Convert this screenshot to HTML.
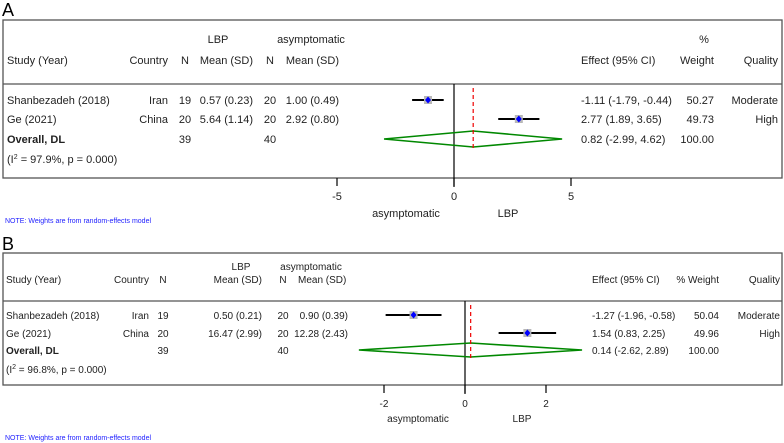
<!DOCTYPE html>
<html><head><meta charset="utf-8"><style>
body{margin:0;background:#fff}
svg{display:block;font-family:"Liberation Sans",Arial,sans-serif}
</style></head><body>
<svg id="c" width="784" height="443" viewBox="0 0 784 443"></svg>
<script>
const studyNames=["Shanbezadeh (2018)","Ge (2021)"];
const countries=["Iran","China"];
const aEffect=[-1.11,2.77], aLo=[-1.79,1.89], aHi=[-0.44,3.65];
const aOverall=[0.82,-2.99,4.62];
const aTicks=[-5,0,5];
const bEffect=[-1.27,1.54], bLo=[-1.96,0.83], bHi=[-0.58,2.25];
const bOverall=[0.14,-2.62,2.89];
const bTicks=[-2,0,2];
const aText=[["19","0.57 (0.23)","20","1.00 (0.49)","-1.11 (-1.79, -0.44)","50.27","Moderate"],["20","5.64 (1.14)","20","2.92 (0.80)","2.77 (1.89, 3.65)","49.73","High"]];
const bText=[["19","0.50 (0.21)","20","0.90 (0.39)","-1.27 (-1.96, -0.58)","50.04","Moderate"],["20","16.47 (2.99)","20","12.28 (2.43)","1.54 (0.83, 2.25)","49.96","High"]];
const NS="http://www.w3.org/2000/svg",svg=document.getElementById('c');
function el(t,a,name,txt){const e=document.createElementNS(NS,t);for(const k in a)e.setAttribute(k,a[k]);


if(txt!==undefined)e.textContent=txt;svg.appendChild(e);return e;}
function T(x,y,s,name,o={}){return el('text',Object.assign({x:x,y:y,'font-size':o.fs||11,'text-anchor':o.a||'start',fill:o.fill||'#222','font-weight':o.fw||'normal'},o.extra||{}),name,s);}

function panel(P){
  const fs=P.fs;
  T(P.letterX,P.letterY,P.letter,'panel-letter',{fs:18,fill:'#000'});
  el('rect',{x:P.bx1,y:P.by1,width:P.bx2-P.bx1,height:P.by2-P.by1,fill:'none',stroke:'#555','stroke-width':1.3},'panel-frame');
  el('line',{x1:P.bx1,x2:P.bx2,y1:P.hy,y2:P.hy,stroke:'#555','stroke-width':1.3},'header-rule');
  const c=P.cols;
  T(c.lbp,P.h1,'LBP','lbp-group-header',{fs:fs,a:'middle'});
  T(c.asym,P.h1,'asymptomatic','asym-group-header',{fs:fs,a:'middle'});
  if(P.pctTop) T(c.wt-10,P.h1,'%','pct-header',{fs:fs,a:'middle'});
  T(c.study,P.h2,'Study (Year)','study-header',{fs:fs});
  T(c.country,P.h2,'Country','country-header',{fs:fs,a:'end'});
  T(c.n1,P.h2,'N','n-lbp-header',{fs:fs,a:P.nA});
  T(c.m1,P.h2,'Mean (SD)','mean-lbp-header',{fs:fs,a:'end'});
  T(c.n2,P.h2,'N','n-asym-header',{fs:fs,a:P.nA});
  T(c.m2h,P.h2,'Mean (SD)','mean-asym-header',{fs:fs,a:P.m2hA});
  T(c.eff,P.h2,'Effect (95% CI)','effect-header',{fs:fs});
  T(c.wt,P.h2,P.pctTop?'Weight':'% Weight','weight-header',{fs:fs,a:'end'});
  T(c.q,P.h2,'Quality','quality-header',{fs:fs,a:'end'});
  const X=v=>P.x0+v*P.k;
  for(let i=0;i<2;i++){
    const y=P.rows[i], r=P.text[i];
    T(c.study,y+4,studyNames[i],'study-name',{fs:fs});
    T(c.country,y+4,countries[i],'country',{fs:fs,a:'end'});
    T(c.n1,y+4,r[0],'n-lbp',{fs:fs,a:P.nA});
    T(c.m1,y+4,r[1],'mean-lbp',{fs:fs,a:'end'});
    T(c.n2,y+4,r[2],'n-asym',{fs:fs,a:P.nA});
    T(c.m2,y+4,r[3],'mean-asym',{fs:fs,a:'end'});
    T(c.eff,y+4,r[4],'effect-ci',{fs:fs});
    T(c.wt,y+4,r[5],'weight',{fs:fs,a:'end'});
    T(c.q,y+4,r[6],'quality',{fs:fs,a:'end'});
    el('line',{x1:X(P.lo[i]),x2:X(P.hi[i]),y1:y,y2:y,stroke:'#000','stroke-width':2},'ci-line');
    el('rect',{x:X(P.eff[i])-4,y:y-4,width:8,height:8,fill:'#b8b8b8'},'weight-box');
    el('path',{d:`M${X(P.eff[i])} ${y-3.5}L${X(P.eff[i])+3} ${y}L${X(P.eff[i])} ${y+3.5}L${X(P.eff[i])-3} ${y}Z`,fill:'#00f'},'point-estimate');
  }
  const oy=P.rows[2];
  T(c.study,oy+4,'Overall, DL','overall-label',{fs:fs,fw:'bold'});
  T(c.n1,oy+4,'39','overall-n-lbp',{fs:fs,a:P.nA});
  T(c.n2,oy+4,'40','overall-n-asym',{fs:fs,a:P.nA});
  T(c.eff,oy+4,P.otext,'overall-effect',{fs:fs});
  T(c.wt,oy+4,'100.00','overall-weight',{fs:fs,a:'end'});
  const het=T(c.study,P.rows[3]+4,'','heterogeneity',{fs:fs});
  het.innerHTML='(I<tspan dy="-4" font-size="7">2</tspan><tspan dy="4"> = '+P.i2+'%, p = 0.000)</tspan>';
  el('line',{x1:X(0),x2:X(0),y1:P.hy,y2:P.by2+9,stroke:'#000','stroke-width':1.2},'null-line');
  const ov=P.ov;
  el('path',{d:`M${X(ov[1])} ${oy}L${X(ov[0])} ${oy-P.dh}L${X(ov[2])} ${oy}L${X(ov[0])} ${oy+P.dh}Z`,fill:'none',stroke:'#080','stroke-width':1.6},'overall-diamond');
  el('line',{x1:X(ov[0]),x2:X(ov[0]),y1:P.hy+4,y2:oy+P.dh+1,stroke:'#e00','stroke-width':1.2,'stroke-dasharray':'4,3'},'overall-effect-line');
  P.ticks.forEach(t=>{el('line',{x1:X(t),x2:X(t),y1:P.by2,y2:P.by2+8,stroke:'#000','stroke-width':1.2},'x-tick');
    T(X(t),P.tickY,String(t),'x-tick-label',{fs:fs,a:'middle'});});
  T(P.asymLX,P.labY,'asymptomatic','favours-asymptomatic-label',{fs:fs,a:'middle'});
  T(P.lbpLX,P.labY,'LBP','favours-lbp-label',{fs:fs,a:'middle'});
  T(P.bx1+2,P.noteY,'NOTE: Weights are from random-effects model','weights-note',{fs:7,fill:'#22f'});
}
panel({letter:'A',letterX:2,letterY:16,bx1:3,by1:20,bx2:782,by2:178,hy:84,h1:43,h2:64,fs:11,
 cols:{study:7,country:168,n1:185,m1:253,n2:270,asym:311,m2:339,m2h:339,eff:581,wt:714,q:778,lbp:218},
 nA:'middle',m2hA:'end',pctTop:true,
 rows:[100,119,139,159],text:aText,eff:aEffect,lo:aLo,hi:aHi,ov:aOverall,otext:'0.82 (-2.99, 4.62)',i2:'97.9',
 x0:454,k:23.4,dh:8,ticks:aTicks,tickY:200,labY:217,asymLX:406,lbpLX:508,noteY:223});
panel({letter:'B',letterX:2,letterY:250,bx1:3,by1:253,bx2:782,by2:385,hy:301,h1:270,h2:283,fs:10,
 cols:{study:6,country:149,n1:163,m1:262,n2:283,asym:311,m2:348,m2h:298,eff:592,wt:719,q:780,lbp:241},
 nA:'middle',m2hA:'start',pctTop:false,
 rows:[315,333,350,369],text:bText,eff:bEffect,lo:bLo,hi:bHi,ov:bOverall,otext:'0.14 (-2.62, 2.89)',i2:'96.8',
 x0:465,k:40.5,dh:7,ticks:bTicks,tickY:407,labY:422,asymLX:418,lbpLX:522,noteY:440});
</script>
</body></html>
